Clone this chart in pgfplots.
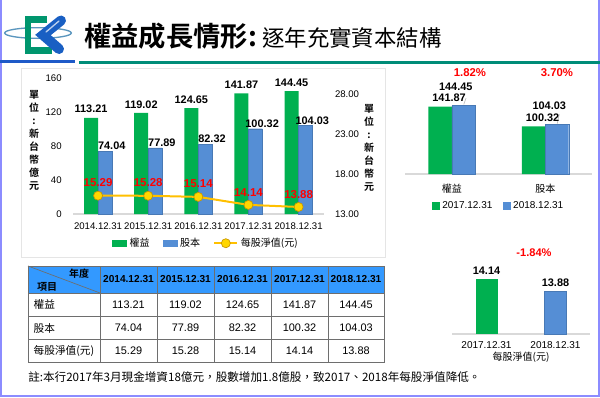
\documentclass[border=0pt]{standalone}
\usepackage{pgfplots}
\usepackage{pgfplotstable}
\pgfplotsset{compat=1.18}
\usepackage{fontspec}
\setmainfont{Liberation Sans}
\newfontfamily\cjk{Noto Sans CJK TC}[BoldFont={Noto Sans CJK TC Bold}]
\definecolor{cgreen}{RGB}{0,176,80}
\definecolor{cblue}{RGB}{85,142,213}
\definecolor{cgold}{RGB}{255,192,0}
\definecolor{cmark}{RGB}{255,214,0}
\definecolor{cmarkd}{RGB}{200,150,0}
\definecolor{hdrblue}{RGB}{51,153,255}
\definecolor{lav}{RGB}{140,140,255}
\definecolor{tealline}{RGB}{0,140,120}
\definecolor{navyline}{RGB}{30,90,200}
\definecolor{logogreen}{RGB}{0,150,110}
\definecolor{logoblue}{RGB}{25,95,195}
\definecolor{ring}{RGB}{90,150,190}
\definecolor{axgray}{RGB}{217,217,217}
\definecolor{tblgray}{RGB}{110,110,110}

\pgfplotstableread{
x eq cap nav
0 113.21 74.04 15.29
1 119.02 77.89 15.28
2 124.65 82.32 15.14
3 141.87 100.32 14.14
4 144.45 104.03 13.88
}\maindata

\pgfplotsset{
  base/.style={scale only axis,
    /pgf/number format/assume math mode=true,
    major tick length=0pt, tick style={draw=none},
    tick label style={font=\fontsize{7.2}{8}\selectfont},
  },
  lbl/.style={nodes near coords={\pgfmathprintnumber[fixed,fixed zerofill,precision=2]{\pgfplotspointmeta}},
    every node near coord/.append style={font=\bfseries\fontsize{8.2}{9}\selectfont, text=black}},
}

\begin{document}
\begin{tikzpicture}[x=0.75pt,y=-0.75pt]
\useasboundingbox (0,0) rectangle (600,397);
\fill[white] (0,0) rectangle (600,397);
\draw[lav, line width=1.5pt] (1,0) -- (1,395.5) -- (598.5,395.5) -- (598.5,0);
\coordinate (A1) at (73,214);
\coordinate (A3) at (405,174);
\coordinate (A4) at (452,334);

% logo
\draw[ring, line width=1pt] (38,33) ellipse [x radius=25pt, y radius=4pt];
\draw[logogreen, line width=4.6pt] (47,19.5) -- (28,19.5) -- (28,50.5) -- (52,50.5);
\draw[logoblue, line width=7.5pt, line cap=round] (61,20.5) -- (43,35) -- (59,49);
\draw[white!70!logoblue, line width=1pt, line cap=round] (59,21) -- (46,32);

% title
\node[anchor=west, inner sep=0, font=\cjk\bfseries\fontsize{20.5}{24}\selectfont] at (84,36) {權益成長情形:};
\node[anchor=west, inner sep=0, font=\cjk\fontsize{16.8}{20}\selectfont] at (262,38) {逐年充實資本結構};
\fill[navyline] (0,59.5) rectangle (75,62.8);
\fill[tealline] (79,60.5) rectangle (600,63.8);

% main panel
\draw[gray!20, line width=0.6pt, fill=white] (21,68) rectangle (385,257);
\node[font=\cjk\bfseries\fontsize{7.5}{9.75}\selectfont, align=center] at (34,140.5) {單\\位\\:\\新\\台\\幣\\億\\元};
\node[font=\cjk\bfseries\fontsize{7.5}{9.75}\selectfont, align=center] at (369,148) {單\\位\\:\\新\\台\\幣\\元};

\begin{axis}[base, at={(A1)}, anchor=south west, width=188pt, height=102pt,
  xmin=-0.5, xmax=4.5, ymin=0, ymax=160,
  ybar=0pt, bar width=10.5pt,
  axis x line*=bottom, axis y line*=left,
  y axis line style={draw=none}, x axis line style={draw=axgray, line width=0.8pt},
  xtick={0,...,4}, xticklabels={2014.12.31,2015.12.31,2016.12.31,2017.12.31,2018.12.31},
  ytick={0,40,...,160},
  yticklabel style={xshift=-5pt},
  xticklabel style={yshift=-3pt},
  ]
\addplot[fill=cgreen, draw=none, lbl] table[x=x,y=eq]{\maindata};
\addplot[fill=cblue, draw=cblue!85!black, line width=0.3pt, lbl, every node near coord/.append style={anchor=center, yshift=4pt, xshift=5pt}] table[x=x,y=cap]{\maindata};
\end{axis}

\begin{axis}[base, at={(A1)}, anchor=south west, width=188pt, height=102pt,
  xmin=-0.5, xmax=4.5, ymin=13, ymax=30,
  axis x line=none, axis y line*=right, y axis line style={draw=none},
  ytick={13,18,23,28},
  yticklabel style={xshift=5pt, /pgf/number format/fixed, /pgf/number format/fixed zerofill, /pgf/number format/precision=2},
  legend style={at={(0.532,-0.215)}, anchor=center, draw=none, fill=none, legend columns=-1,
    font=\cjk\fontsize{7.5}{9}\selectfont, /tikz/every even column/.append style={column sep=8pt}},
  ]
\addlegendimage{legend image code/.code={\fill[cgreen] (0pt,-2pt) rectangle (10.5pt,2pt);}}
\addlegendentry{權益}
\addlegendimage{legend image code/.code={\fill[cblue] (0pt,-2pt) rectangle (10.5pt,2pt);}}
\addlegendentry{股本}
\addplot[cgold, line width=1.5pt, mark=*, mark size=3.4pt, mark options={fill=cmark, draw=cmarkd, line width=0.5pt},
  lbl, every node near coord/.append style={text=red, yshift=3pt, font=\bfseries\fontsize{8.6}{9}\selectfont}] table[x=x,y=nav]{\maindata};
\addlegendentry{每股淨值(元)}
\end{axis}

% top-right chart
\begin{axis}[base, at={(A3)}, anchor=south west, width=140.25pt, height=56.9pt,
  xmin=-0.5, xmax=1.5, ymin=0, ymax=160,
  axis x line*=bottom, axis y line=none, x axis line style={draw=axgray, line width=0.8pt},
  xtick={0,1}, xticklabels={權益,股本},
  xticklabel style={font=\cjk\fontsize{7.5}{9}\selectfont, yshift=-4pt},
  legend style={at={(0.503,-0.42)}, anchor=center, draw=none, fill=none, legend columns=-1,
    font=\fontsize{7.5}{9}\selectfont, /tikz/every even column/.append style={column sep=6pt}},
  ]
\addplot[ybar, bar width=17.6pt, bar shift=-8.8pt, fill=cgreen, draw=none, lbl, every node near coord/.append style={xshift=-2pt}, forget plot] coordinates {(0,141.87) (1,100.32)};
\addplot[ybar, bar width=17.6pt, bar shift=8.8pt, fill=cblue, draw=cblue!85!black, line width=0.3pt, lbl, every node near coord/.append style={xshift=3pt, yshift=8pt}, forget plot] coordinates {(0,144.45) (1,104.03)};
\addlegendimage{legend image code/.code={\fill[cgreen] (0pt,-2.6pt) rectangle (5.2pt,2.6pt);}}
\addlegendentry{2017.12.31}
\addlegendimage{legend image code/.code={\fill[cblue] (0pt,-2.6pt) rectangle (5.2pt,2.6pt);}}
\addlegendentry{2018.12.31}
\draw[gray!60, line width=0.4pt] ([xshift=9pt,yshift=0.8pt]axis cs:0,144.45) -- ++(2.5pt,7pt);
\draw[gray!60, line width=0.4pt] ([xshift=9pt,yshift=0.8pt]axis cs:1,104.03) -- ++(1.5pt,7pt);
\end{axis}
\node[text=red, font=\bfseries\fontsize{8.5}{10}\selectfont] at (470,73) {1.82\%};
\node[text=red, font=\bfseries\fontsize{8.5}{10}\selectfont] at (557,73) {3.70\%};

% bottom-right chart
\begin{axis}[base, at={(A4)}, anchor=south west, width=103.5pt, height=58.2pt,
  xmin=-0.5, xmax=1.5, ymin=13, ymax=14.6,
  axis x line*=bottom, axis y line=none, x axis line style={draw=axgray, line width=0.8pt},
  xtick={0,1}, xticklabels={2017.12.31,2018.12.31},
  xticklabel style={yshift=-2pt, font=\fontsize{7.5}{9}\selectfont},
  xlabel={每股淨值(元)}, xlabel style={font=\cjk\fontsize{7.5}{9}\selectfont, yshift=4pt},
  ]
\addplot[ybar, bar width=16.5pt, bar shift=0pt, fill=cgreen, draw=none, lbl] coordinates {(0,14.14)};
\addplot[ybar, bar width=16.5pt, bar shift=0pt, fill=cblue, draw=cblue!85!black, line width=0.3pt, lbl] coordinates {(1,13.88)};
\end{axis}
\node[text=red, font=\bfseries\fontsize{8.3}{10}\selectfont] at (534,253) {-1.84\%};

% table
\fill[hdrblue] (28,266) rectangle (384,293);
\foreach \yy in {266,293,316.7,339.3,362.7} \draw[tblgray, line width=0.7pt] (28,\yy) -- (384,\yy);
\foreach \xx in {28,100,157,214,271,328,384} \draw[tblgray, line width=0.7pt] (\xx,266) -- (\xx,362.7);
\draw[tblgray, line width=0.5pt] (28,266) -- (100,293);
\node[font=\cjk\bfseries\fontsize{7.5}{9}\selectfont] at (79,273.5) {年度};
\node[font=\cjk\bfseries\fontsize{7.5}{9}\selectfont] at (47,286.5) {項目};
\foreach \t/\cx in {2014.12.31/128.5,2015.12.31/185.5,2016.12.31/242.5,2017.12.31/299.5,2018.12.31/356}
  \node[font=\bfseries\fontsize{7.6}{9}\selectfont] at (\cx,279.5) {\t};
\node[anchor=west, font=\cjk\fontsize{8}{9}\selectfont] at (29,304.8) {權益};
\node[anchor=west, font=\cjk\fontsize{8}{9}\selectfont] at (29,328) {股本};
\node[anchor=west, font=\cjk\fontsize{8}{9}\selectfont] at (29,351) {每股淨值(元)};
\foreach \v/\cx in {113.21/128.5,119.02/185.5,124.65/242.5,141.87/299.5,144.45/356}
  \node[font=\fontsize{8.2}{9}\selectfont] at (\cx,304.8) {\v};
\foreach \v/\cx in {74.04/128.5,77.89/185.5,82.32/242.5,100.32/299.5,104.03/356}
  \node[font=\fontsize{8.2}{9}\selectfont] at (\cx,328) {\v};
\foreach \v/\cx in {15.29/128.5,15.28/185.5,15.14/242.5,14.14/299.5,13.88/356}
  \node[font=\fontsize{8.2}{9}\selectfont] at (\cx,351) {\v};
\node[anchor=west, inner sep=0, font=\cjk\fontsize{8.7}{10}\selectfont] at (28,377) {註:本行2017年3月現金增資18億元，股數增加1.8億股，致2017、2018年每股淨值降低。};
\end{tikzpicture}
\end{document}
